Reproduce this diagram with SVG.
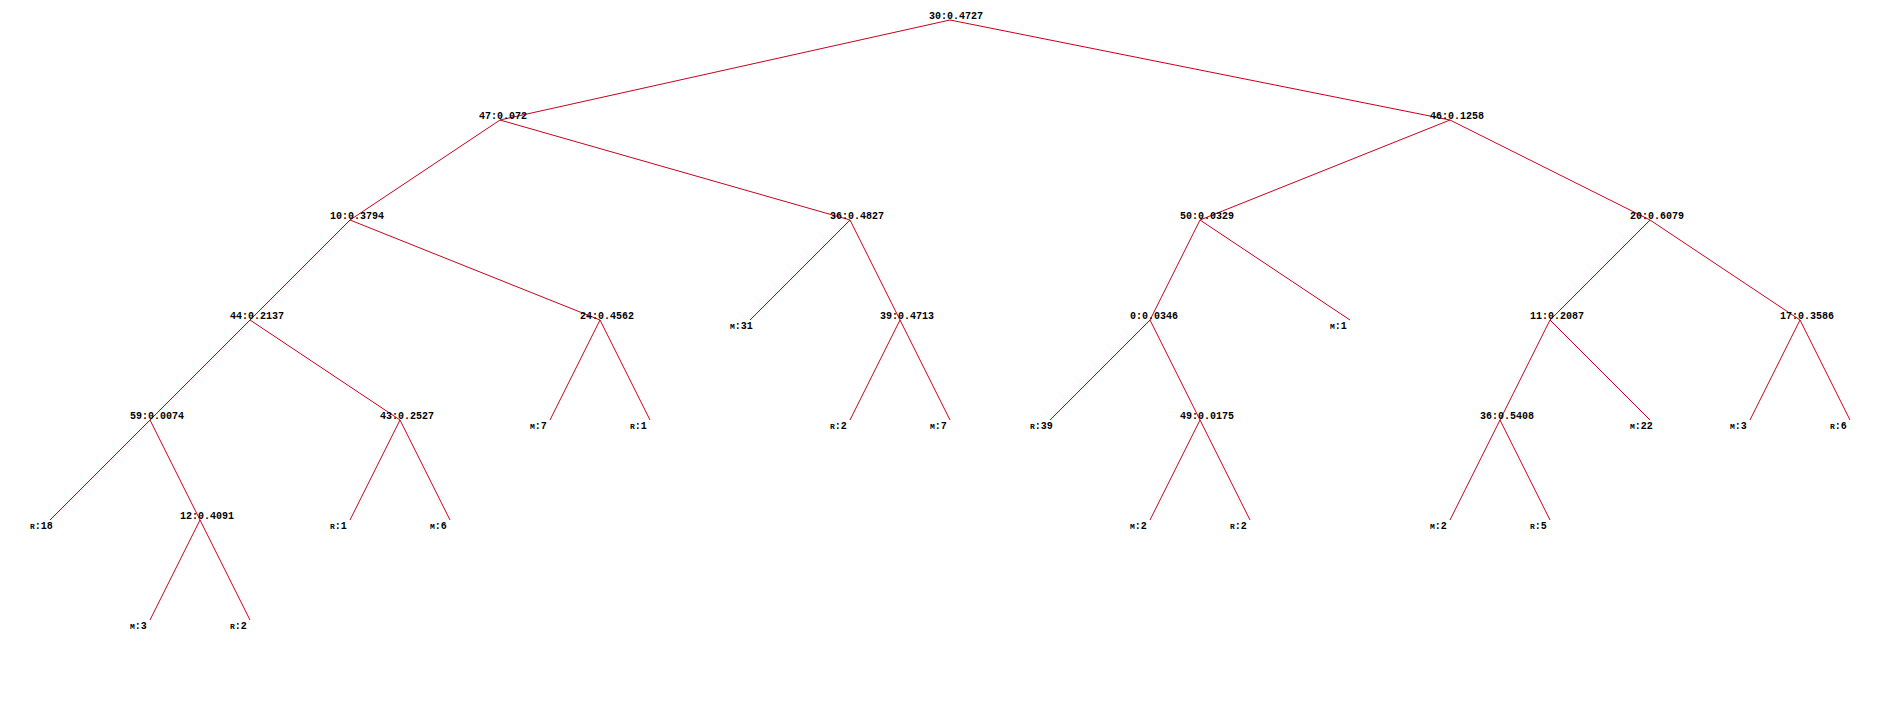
<svg xmlns="http://www.w3.org/2000/svg" width="1900" height="720" viewBox="0 0 1900 720">
<style>
.e{stroke:#c8001e;stroke-width:1;fill:none}
.n{font-family:"Liberation Mono","DejaVu Sans Mono",monospace;font-size:10px;font-weight:bold;fill:#000}
.s{font-size:8px}
</style>
<rect width="1900" height="720" fill="#fff"/>
<g id="connectors" class="e">
<line x1="950" y1="20" x2="500" y2="120"/>
<line x1="950" y1="20" x2="1450" y2="120"/>
<line x1="500" y1="120" x2="350" y2="220"/>
<line x1="500" y1="120" x2="850" y2="220"/>
<line x1="1450" y1="120" x2="1200" y2="220"/>
<line x1="1450" y1="120" x2="1650" y2="220"/>
<line x1="350" y1="220" x2="250" y2="320"/>
<line x1="350" y1="220" x2="600" y2="320"/>
<line x1="850" y1="220" x2="750" y2="320"/>
<line x1="850" y1="220" x2="900" y2="320"/>
<line x1="1200" y1="220" x2="1150" y2="320"/>
<line x1="1200" y1="220" x2="1350" y2="320"/>
<line x1="1650" y1="220" x2="1550" y2="320"/>
<line x1="1650" y1="220" x2="1800" y2="320"/>
<line x1="250" y1="320" x2="150" y2="420"/>
<line x1="250" y1="320" x2="400" y2="420"/>
<line x1="600" y1="320" x2="550" y2="420"/>
<line x1="600" y1="320" x2="650" y2="420"/>
<line x1="900" y1="320" x2="850" y2="420"/>
<line x1="900" y1="320" x2="950" y2="420"/>
<line x1="1150" y1="320" x2="1050" y2="420"/>
<line x1="1150" y1="320" x2="1200" y2="420"/>
<line x1="1550" y1="320" x2="1500" y2="420"/>
<line x1="1550" y1="320" x2="1650" y2="420"/>
<line x1="1800" y1="320" x2="1750" y2="420"/>
<line x1="1800" y1="320" x2="1850" y2="420"/>
<line x1="150" y1="420" x2="50" y2="520"/>
<line x1="150" y1="420" x2="200" y2="520"/>
<line x1="400" y1="420" x2="350" y2="520"/>
<line x1="400" y1="420" x2="450" y2="520"/>
<line x1="1200" y1="420" x2="1150" y2="520"/>
<line x1="1200" y1="420" x2="1250" y2="520"/>
<line x1="1500" y1="420" x2="1450" y2="520"/>
<line x1="1500" y1="420" x2="1550" y2="520"/>
<line x1="200" y1="520" x2="150" y2="620"/>
<line x1="200" y1="520" x2="250" y2="620"/>
</g>
<g id="n30" class="n"><text x="929" y="19">30:0.4727</text></g>
<g id="n47" class="n"><text x="479" y="119">47:0.072</text></g>
<g id="n46" class="n"><text x="1430" y="119">46:0.1258</text></g>
<g id="n10" class="n"><text x="330" y="219">10:0.3794</text></g>
<g id="n36a" class="n"><text x="830" y="219">36:0.4827</text></g>
<g id="n50" class="n"><text x="1180" y="219">50:0.0329</text></g>
<g id="n20" class="n"><text x="1630" y="219">20:0.6079</text></g>
<g id="n44" class="n"><text x="230" y="319">44:0.2137</text></g>
<g id="n24" class="n"><text x="580" y="319">24:0.4562</text></g>
<g id="lM31" class="n"><text x="730" y="329"><tspan class="s">M</tspan>:31</text></g>
<g id="n39" class="n"><text x="880" y="319">39:0.4713</text></g>
<g id="n0" class="n"><text x="1130" y="319">0:0.0346</text></g>
<g id="lM1" class="n"><text x="1330" y="329"><tspan class="s">M</tspan>:1</text></g>
<g id="n11" class="n"><text x="1530" y="319">11:0.2087</text></g>
<g id="n17" class="n"><text x="1780" y="319">17:0.3586</text></g>
<g id="n59" class="n"><text x="130" y="419">59:0.0074</text></g>
<g id="n43" class="n"><text x="380" y="419">43:0.2527</text></g>
<g id="lM7a" class="n"><text x="530" y="429"><tspan class="s">M</tspan>:7</text></g>
<g id="lR1a" class="n"><text x="630" y="429"><tspan class="s">R</tspan>:1</text></g>
<g id="lR2a" class="n"><text x="830" y="429"><tspan class="s">R</tspan>:2</text></g>
<g id="lM7b" class="n"><text x="930" y="429"><tspan class="s">M</tspan>:7</text></g>
<g id="lR39" class="n"><text x="1030" y="429"><tspan class="s">R</tspan>:39</text></g>
<g id="n49" class="n"><text x="1180" y="419">49:0.0175</text></g>
<g id="n36b" class="n"><text x="1480" y="419">36:0.5408</text></g>
<g id="lM22" class="n"><text x="1630" y="429"><tspan class="s">M</tspan>:22</text></g>
<g id="lM3a" class="n"><text x="1730" y="429"><tspan class="s">M</tspan>:3</text></g>
<g id="lR6" class="n"><text x="1830" y="429"><tspan class="s">R</tspan>:6</text></g>
<g id="lR18" class="n"><text x="30" y="529"><tspan class="s">R</tspan>:18</text></g>
<g id="n12" class="n"><text x="180" y="519">12:0.4091</text></g>
<g id="lR1b" class="n"><text x="330" y="529"><tspan class="s">R</tspan>:1</text></g>
<g id="lM6" class="n"><text x="430" y="529"><tspan class="s">M</tspan>:6</text></g>
<g id="lM2a" class="n"><text x="1130" y="529"><tspan class="s">M</tspan>:2</text></g>
<g id="lR2b" class="n"><text x="1230" y="529"><tspan class="s">R</tspan>:2</text></g>
<g id="lM2b" class="n"><text x="1430" y="529"><tspan class="s">M</tspan>:2</text></g>
<g id="lR5" class="n"><text x="1530" y="529"><tspan class="s">R</tspan>:5</text></g>
<g id="lM3b" class="n"><text x="130" y="629"><tspan class="s">M</tspan>:3</text></g>
<g id="lR2c" class="n"><text x="230" y="629"><tspan class="s">R</tspan>:2</text></g>
</svg>
